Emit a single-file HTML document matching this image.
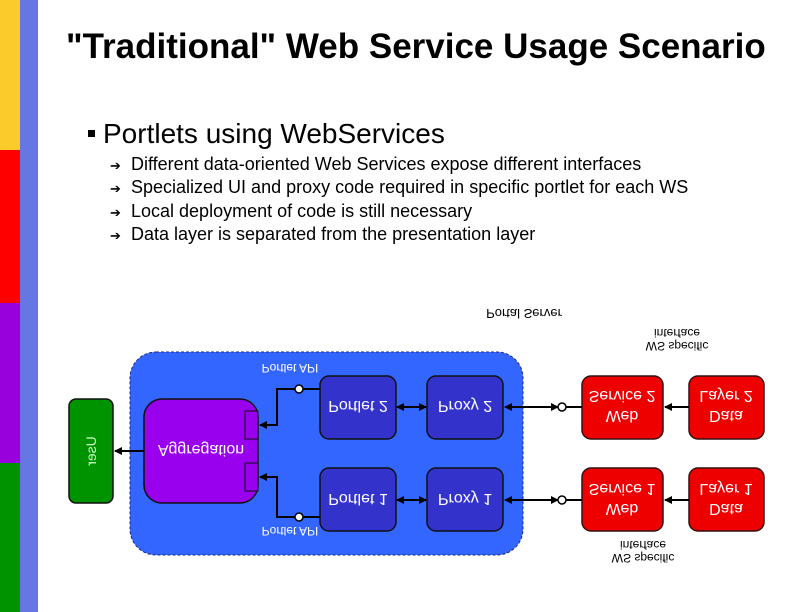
<!DOCTYPE html>
<html><head><meta charset="utf-8"><style>
body{margin:0;width:792px;height:612px;overflow:hidden;background:#fff;font-family:"Liberation Sans",Arial,sans-serif;position:relative}
.t{position:absolute;white-space:nowrap;color:#000}
</style></head><body>
<div style="position:absolute;left:0;top:0;width:20px;height:150px;background:#fbcb2c"></div>
<div style="position:absolute;left:0;top:150px;width:20px;height:153px;background:#fe0000"></div>
<div style="position:absolute;left:0;top:303px;width:20px;height:160px;background:#9800dc"></div>
<div style="position:absolute;left:0;top:463px;width:20px;height:149px;background:#009300"></div>
<div style="position:absolute;left:20px;top:0;width:18px;height:612px;background:#6677e3"></div>
<div class="t" style="left:66px;top:27px;font-size:35px;font-weight:bold">"Traditional" Web Service Usage Scenario</div>
<div style="position:absolute;left:88px;top:130px;width:7px;height:7px;background:#000"></div>
<div class="t" style="left:103px;top:118px;font-size:28px">Portlets using WebServices</div>
<div class="t" style="left:110px;top:154px;font-size:13px;line-height:23.3px">➔<br>➔<br>➔<br>➔</div>
<div class="t" style="left:131px;top:153px;font-size:18px;line-height:23.3px">Different data-oriented Web Services expose different interfaces<br>Specialized UI and proxy code required in specific portlet for each WS<br>Local deployment of code is still necessary<br>Data layer is separated from the presentation layer</div>
<svg style="position:absolute;left:0;top:0" width="792" height="612" font-family="Liberation Sans,Arial,sans-serif">
<defs><marker id="a" markerWidth="8" markerHeight="8" refX="7" refY="4" orient="auto" markerUnits="userSpaceOnUse"><path d="M0,0L8,4L0,8z" fill="#000"/></marker>
<marker id="b" markerWidth="8" markerHeight="8" refX="1" refY="4" orient="auto" markerUnits="userSpaceOnUse"><path d="M8,0L0,4L8,8z" fill="#000"/></marker></defs>
<rect x="130" y="352" width="393" height="203" rx="26" fill="#3366ff" stroke="#1a2a80" stroke-dasharray="3,2"/>
<rect x="69" y="399" width="44" height="104" rx="7" fill="#009300" stroke="#111" stroke-width="1.5"/>
<rect x="144" y="399" width="114" height="104" rx="18" fill="#9800ee" stroke="#111" stroke-width="1.5"/>
<rect x="245" y="411" width="13" height="28" fill="#9800ee" stroke="#111"/>
<rect x="245" y="463" width="13" height="28" fill="#9800ee" stroke="#111"/>
<g fill="#3333cc" stroke="#111" stroke-width="1.5">
<rect x="320" y="376" width="76" height="63" rx="9"/><rect x="320" y="468" width="76" height="63" rx="9"/>
<rect x="427" y="376" width="76" height="63" rx="9"/><rect x="427" y="468" width="76" height="63" rx="9"/></g>
<g fill="#ee0000" stroke="#331111" stroke-width="1.5">
<rect x="582" y="376" width="81" height="63" rx="9"/><rect x="582" y="468" width="81" height="63" rx="9"/>
<rect x="689" y="376" width="75" height="63" rx="9"/><rect x="689" y="468" width="75" height="63" rx="9"/></g>
<g stroke="#000" stroke-width="2" fill="none">
<line x1="144" y1="451" x2="115" y2="451" marker-end="url(#a)"/>
<path d="M320,389H303M295,389H277V425H260" marker-end="url(#a)"/>
<path d="M320,517H303M295,517H277V477H260" marker-end="url(#a)"/>
<line x1="397" y1="407" x2="426" y2="407" marker-start="url(#b)" marker-end="url(#a)"/>
<line x1="397" y1="500" x2="426" y2="500" marker-start="url(#b)" marker-end="url(#a)"/>
<line x1="505" y1="407" x2="558" y2="407" marker-start="url(#b)" marker-end="url(#a)"/>
<line x1="505" y1="500" x2="558" y2="500" marker-start="url(#b)" marker-end="url(#a)"/>
<line x1="566" y1="407" x2="582" y2="407"/><line x1="566" y1="500" x2="582" y2="500"/>
<line x1="689" y1="407" x2="665" y2="407" marker-end="url(#a)"/>
<line x1="689" y1="500" x2="665" y2="500" marker-end="url(#a)"/>
</g>
<g fill="#fff" stroke="#000" stroke-width="1.5"><circle cx="299" cy="389" r="4"/><circle cx="299" cy="517" r="4"/><circle cx="562" cy="407" r="4"/><circle cx="562" cy="500" r="4"/></g>
<g text-anchor="middle" font-size="16">
<text transform="translate(91,451) rotate(90) scale(1,-1)" fill="#cfc" font-size="14" y="5">User</text>
<text transform="translate(201,451) scale(1,-1)" fill="#fff" y="6">Aggregation</text>
<text transform="translate(358,407) scale(1,-1)" fill="#fff" y="6">Portlet 2</text>
<text transform="translate(358,500) scale(1,-1)" fill="#fff" y="6">Portlet 1</text>
<text transform="translate(465,407) scale(1,-1)" fill="#fff" y="6">Proxy 2</text>
<text transform="translate(465,500) scale(1,-1)" fill="#fff" y="6">Proxy 1</text>
<text transform="translate(622,407) scale(1,-1)" fill="#fff"><tspan x="0" y="-4">Web</tspan><tspan x="0" y="16">Service 2</tspan></text>
<text transform="translate(622,500) scale(1,-1)" fill="#fff"><tspan x="0" y="-4">Web</tspan><tspan x="0" y="16">Service 1</tspan></text>
<text transform="translate(726,407) scale(1,-1)" fill="#fff"><tspan x="0" y="-4">Data</tspan><tspan x="0" y="16">Layer 2</tspan></text>
<text transform="translate(726,500) scale(1,-1)" fill="#fff"><tspan x="0" y="-4">Data</tspan><tspan x="0" y="16">Layer 1</tspan></text>
<text transform="translate(290,368) scale(1,-1)" fill="#fff" font-size="12" y="4">Portlet API</text>
<text transform="translate(290,531) scale(1,-1)" fill="#fff" font-size="12" y="4">Portlet API</text>
<text transform="translate(524,313) scale(1,-1)" fill="#000" font-size="13" y="4">Portal Server</text>
<text transform="translate(677,339) scale(1,-1)" fill="#000" font-size="12"><tspan x="0" y="-3">WS specific</tspan><tspan x="0" y="10">interface</tspan></text>
<text transform="translate(643,551) scale(1,-1)" fill="#000" font-size="12"><tspan x="0" y="-3">WS specific</tspan><tspan x="0" y="10">interface</tspan></text>
</g>
</svg>
</body></html>
